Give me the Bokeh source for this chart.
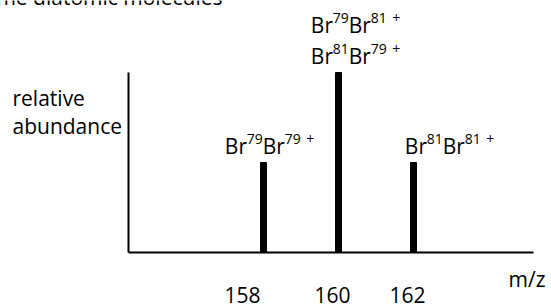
from bokeh.plotting import figure
from bokeh.models import Range1d
from bokeh.core.properties import value
from bokeh.embed import file_html
from bokeh.resources import INLINE

# data
mz = [158, 160, 162]
abundance = [1, 2, 1]
tick_labels = ["158", "160", "162"]
# labels as (base, superscript) pairs
label_79_79 = [("Br", "79"), ("Br", "79"), (" ", "+")]
label_81_81 = [("Br", "81"), ("Br", "81"), (" ", "+")]
label_79_81 = [("Br", "79"), ("Br", "81"), (" ", "+")]
label_81_79 = [("Br", "81"), ("Br", "79"), (" ", "+")]
title_fragment = "me diatomic molecules"

FONT = value("Open Sans")
FS = 21
SUP = 14
ADV = {"B": 0.635, "r": 0.408, " ": 0.26, "+": 0.572}
for d in "0123456789":
    ADV[d] = 0.572

SHIFT = -8  # text baseline correction


def tw(s, size):
    return sum(ADV[c] for c in s) * size


px_x = 37.5   # pixels per m/z unit
px_y = 90.0   # pixels per abundance unit
W, H = 551, 304

x0 = 158 - 263 / px_x
y1 = 252 / px_y
p = figure(width=W, height=H, output_backend="svg", toolbar_location=None,
           x_range=Range1d(x0, x0 + W / px_x), y_range=Range1d(y1 - H / px_y, y1),
           min_border=0)
p.axis.visible = False
p.grid.visible = False
p.outline_line_color = None
p.background_fill_color = "white"

ax_left = 154.4
ax_right = 165.2
# axes lines
p.segment(x0=[ax_left, ax_left], y0=[0, 0], x1=[ax_left, ax_right], y1=[max(abundance), 0],
          line_color="black", line_width=2)

# peaks
p.vbar(x=mz, top=abundance, width=6 / px_x, color="black")

txt = dict(text_font=FONT, text_font_size=f"{FS}px", text_baseline="alphabetic")

# tick labels
p.text(x=mz, y=[0] * 3, text=tick_labels, x_offset=[-21, -6, -6], y_offset=50 + SHIFT,
       text_align="center", **txt)

# m/z label
p.text(x=[ax_right], y=[0], text=["m/z"], x_offset=-25, y_offset=34 + SHIFT,
       text_align="left", **txt)

# y label
p.text(x=[x0, x0], y=[y1, y1], text=["relative", "abundance"], x_offset=12,
       y_offset=[105 + SHIFT, 133 + SHIFT], text_align="left", **txt)

# cut-off title fragment at the top
p.text(x=[x0], y=[y1], text=[title_fragment], x_offset=222, y_offset=4 + SHIFT,
       text_align="right", **txt)


def add_label(x, y, dx_center, dy, parts):
    total = sum(tw(b, FS) + tw(s, SUP) for b, s in parts)
    off = dx_center - total / 2
    bx, bt, sx, st = [], [], [], []
    for b, s in parts:
        bx.append(off); bt.append(b); off += tw(b, FS)
        sx.append(off); st.append(s); off += tw(s, SUP)
    p.text(x=[x] * len(bt), y=[y] * len(bt), text=bt, x_offset=bx, y_offset=dy + SHIFT,
           text_align="left", **txt)
    p.text(x=[x] * len(st), y=[y] * len(st), text=st, x_offset=sx, y_offset=dy - 7 + SHIFT,
           text_font=FONT, text_font_size=f"{SUP}px", text_align="left", text_baseline="alphabetic")


add_label(mz[0], abundance[0], 6, -9, label_79_79)
add_label(mz[2], abundance[2], 36, -9, label_81_81)
add_label(mz[1], abundance[1], 17, -40, label_79_81)
add_label(mz[1], abundance[1], 17, -9, label_81_79)

open("out.html", "w").write(file_html(p, INLINE))
